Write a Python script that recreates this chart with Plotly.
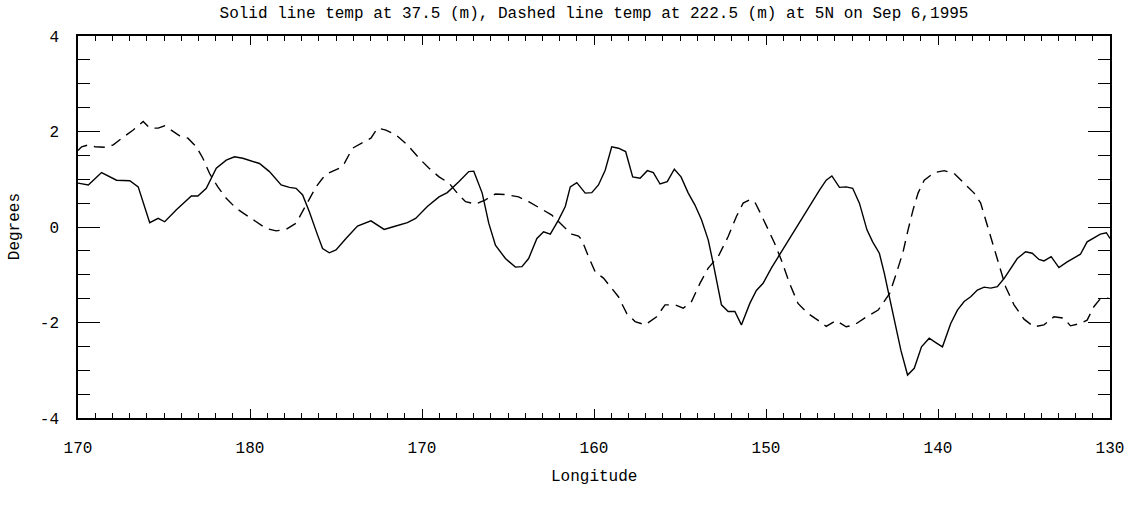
import plotly.graph_objects as go

# Longitude along 5N, expressed as continuous degrees east (170E .. 230E = 130W)
solid_lon = [170.0, 170.6, 171.37, 172.24, 173.01, 173.5, 174.17, 174.66, 175.04, 175.72,
             176.59, 176.97, 177.46, 178.04, 178.62, 179.1, 179.58, 180.55, 181.13, 181.81,
             182.29, 182.68, 183.06, 183.45, 183.93, 184.22, 184.61, 185.0, 185.58, 186.25,
             187.03, 187.8, 188.38, 189.15, 189.63, 190.31, 190.99, 191.47, 192.14, 192.72,
             193.01, 193.5, 193.88, 194.27, 194.85, 195.43, 195.81, 196.2, 196.68, 197.07,
             197.46, 197.94, 198.33, 198.62, 199.0, 199.49, 199.87, 200.26, 200.65, 201.03,
             201.42, 201.84, 202.25, 202.68, 203.1, 203.45, 203.84, 204.26, 204.67, 205.06,
             205.48, 205.87, 206.25, 206.64, 206.93, 207.18, 207.41, 207.8, 208.19, 208.57,
             209.06, 209.44, 209.83, 210.31, 210.89, 211.67, 212.43, 213.11, 213.5, 213.83,
             214.27, 214.66, 215.04, 215.43, 215.87, 216.2, 216.59, 216.88, 217.17, 217.5,
             217.84, 218.23, 218.62, 219.04, 219.49, 219.87, 220.26, 220.74, 221.13, 221.52,
             221.9, 222.29, 222.68, 223.06, 223.45, 223.84, 224.22, 224.61, 225.09, 225.48,
             225.87, 226.16, 226.58, 227.03, 227.51, 227.9, 228.28, 228.67, 229.15, 229.44,
             229.79, 230.0]
# Temperature anomaly at 37.5 m (degrees)
solid_temp = [0.92, 0.88, 1.14, 0.98, 0.97, 0.84, 0.09, 0.18, 0.11, 0.36,
              0.65, 0.65, 0.81, 1.23, 1.40, 1.47, 1.44, 1.33, 1.16, 0.88,
              0.83, 0.81, 0.67, 0.32, -0.17, -0.45, -0.54, -0.48, -0.24, 0.02,
              0.13, -0.05, 0.01, 0.09, 0.18, 0.43, 0.63, 0.72, 0.95, 1.16,
              1.17, 0.71, 0.08, -0.38, -0.66, -0.84, -0.83, -0.66, -0.24, -0.10,
              -0.15, 0.15, 0.43, 0.84, 0.93, 0.71, 0.72, 0.88, 1.19, 1.68,
              1.65, 1.58, 1.05, 1.02, 1.18, 1.14, 0.90, 0.95, 1.21, 1.05,
              0.71, 0.46, 0.15, -0.27, -0.76, -1.25, -1.63, -1.77, -1.77, -2.05,
              -1.60, -1.33, -1.18, -0.86, -0.52, -0.06, 0.36, 0.77, 0.98, 1.07,
              0.83, 0.84, 0.81, 0.50, -0.06, -0.31, -0.55, -0.97, -1.46, -2.02,
              -2.58, -3.10, -2.96, -2.51, -2.33, -2.42, -2.51, -2.02, -1.74, -1.56,
              -1.46, -1.32, -1.26, -1.28, -1.25, -1.08, -0.86, -0.66, -0.52, -0.55,
              -0.68, -0.71, -0.62, -0.85, -0.73, -0.64, -0.57, -0.31, -0.22, -0.15,
              -0.12, -0.24]

dashed_lon = [170.0, 170.21, 170.6, 170.99, 171.66, 172.05, 172.63, 173.21, 173.79, 174.17,
              174.66, 175.04, 175.33, 175.91, 176.39, 176.88, 177.26, 177.65, 178.13, 178.62,
              179.2, 179.78, 180.36, 180.94, 181.52, 182.1, 182.68, 183.06, 183.45, 183.84,
              184.22, 184.51, 185.19, 185.48, 185.96, 186.45, 187.03, 187.41, 187.9, 188.48,
              189.15, 189.83, 190.41, 190.99, 191.57, 192.05, 192.53, 193.11, 193.69, 194.27,
              194.85, 195.62, 196.2, 196.88, 197.55, 198.23, 198.71, 199.1, 199.29, 199.68,
              200.07, 200.55, 201.03, 201.42, 201.9, 202.39, 202.97, 203.64, 204.13, 204.71,
              205.19, 205.67, 206.16, 206.64, 207.22, 207.8, 208.28, 208.67, 209.06, 209.34,
              209.73, 210.12, 210.5, 210.89, 211.37, 211.86, 212.43, 213.01, 213.5, 214.08,
              214.66, 215.14, 215.81, 216.52, 217.19, 217.58, 217.97, 218.26, 218.55, 218.84,
              219.2, 219.78, 220.36, 220.94, 221.52, 222.1, 222.48, 222.77, 223.16, 223.54,
              223.93, 224.42, 225.0, 225.58, 226.16, 226.74, 227.32, 227.7, 228.28, 228.67,
              229.06, 229.42, 229.91]
# Temperature anomaly at 222.5 m (degrees)
dashed_temp = [1.60, 1.68, 1.72, 1.68, 1.67, 1.72, 1.88, 2.03, 2.21, 2.07,
               2.07, 2.12, 2.05, 1.91, 1.86, 1.68, 1.44, 1.12, 0.84, 0.60,
               0.39, 0.25, 0.11, -0.03, -0.08, -0.05, 0.08, 0.32, 0.57, 0.84,
               1.02, 1.12, 1.23, 1.33, 1.65, 1.75, 1.86, 2.07, 2.03, 1.93,
               1.72, 1.44, 1.23, 1.05, 0.92, 0.71, 0.53, 0.48, 0.57, 0.69,
               0.68, 0.63, 0.53, 0.39, 0.25, 0.01, -0.15, -0.19, -0.27, -0.62,
               -0.94, -1.07, -1.28, -1.46, -1.81, -1.98, -2.05, -1.88, -1.63, -1.63,
               -1.70, -1.56, -1.18, -0.86, -0.62, -0.20, 0.22, 0.50, 0.57, 0.53,
               0.25, -0.06, -0.34, -0.69, -1.18, -1.60, -1.81, -1.95, -2.08, -1.96,
               -2.09, -2.05, -1.89, -1.74, -1.39, -0.97, -0.52, -0.06, 0.36, 0.71,
               0.98, 1.14, 1.18, 1.12, 0.92, 0.71, 0.50, 0.15, -0.27, -0.76,
               -1.25, -1.63, -1.93, -2.09, -2.05, -1.88, -1.91, -2.07, -2.02, -1.95,
               -1.67, -1.51, -1.49]

# Major tick positions and their longitude labels (180 = date line, then degrees W)
x_tickvals = [170, 180, 190, 200, 210, 220, 230]
x_ticktext = ["170", "180", "170", "160", "150", "140", "130"]
y_tickvals = [-4, -2, 0, 2, 4]
y_ticktext = ["-4", "-2", "0", "2", "4"]

FONT = "Liberation Mono, Courier New, monospace"

fig = go.Figure()
fig.add_trace(go.Scatter(x=solid_lon, y=solid_temp, mode="lines",
                         line=dict(color="black", width=1.4), showlegend=False))
fig.add_trace(go.Scatter(x=dashed_lon, y=dashed_temp, mode="lines",
                         line=dict(color="black", width=1.4, dash="11px,7px"),
                         showlegend=False))

fig.update_layout(
    width=1136, height=515,
    margin=dict(l=78, r=22, t=36, b=97),
    paper_bgcolor="white", plot_bgcolor="white",
    font=dict(family=FONT, size=16, color="black"),
    title=dict(text="Solid line temp at 37.5 (m), Dashed line temp at 222.5 (m) at 5N on Sep 6,1995",
               x=0.5, xref="paper", y=1 - 12 / 515, yanchor="middle",
               font=dict(family=FONT, size=16, color="black")),
)

fig.update_xaxes(
    range=[170, 230], showgrid=False, zeroline=False,
    showline=True, linecolor="black", linewidth=1.5, mirror="ticks",
    ticks="inside", ticklen=9, tickwidth=1.2, tickcolor="black",
    tickvals=x_tickvals, ticktext=x_ticktext, ticklabelstandoff=14,
    minor=dict(ticks="inside", ticklen=5, tickwidth=1, tickcolor="black",
               dtick=1, tick0=170, showgrid=False),
)
fig.update_yaxes(
    range=[-4, 4], showgrid=False, zeroline=False,
    showline=True, linecolor="black", linewidth=1.5, mirror="ticks",
    ticks="inside", ticklen=22, tickwidth=1.2, tickcolor="black",
    tickvals=y_tickvals, ticktext=y_ticktext, ticklabelstandoff=14,
    minor=dict(ticks="inside", ticklen=12, tickwidth=1, tickcolor="black",
               dtick=0.5, tick0=0, showgrid=False),
)

fig.add_annotation(text="Longitude", xref="paper", yref="paper",
                   x=0.5, y=(418 - 477) / 382, showarrow=False,
                   xanchor="center", yanchor="middle", font=dict(size=16))
fig.add_annotation(text="Degrees", xref="paper", yref="paper",
                   x=(15 - 78) / 1035, y=0.5, textangle=-90, showarrow=False,
                   xanchor="center", yanchor="middle", font=dict(size=16))

fig.write_html("out.html")
